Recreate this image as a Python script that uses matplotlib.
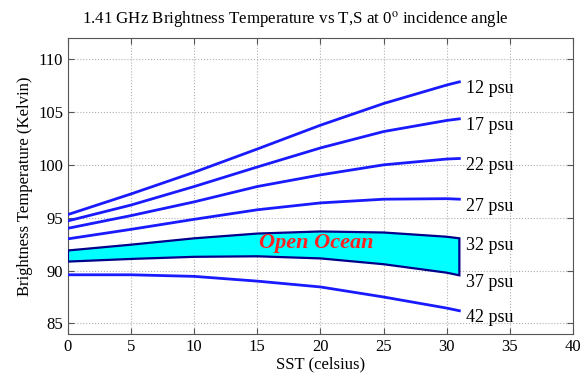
import numpy as np
import matplotlib.pyplot as plt

plt.rcParams['font.family'] = ['Liberation Serif', 'DejaVu Serif']
plt.rcParams['mathtext.fontset'] = 'stix'

# Sea surface temperature (celsius) where the brightness temperature was sampled
sst = [0, 5, 10, 15, 20, 25, 30, 31]

# Brightness temperature (Kelvin) for each salinity
salinity = [12, 17, 22, 27, 32, 37, 42]
tb_12 = [95.3, 97.25, 99.3, 101.5, 103.75, 105.8, 107.55, 107.85]
tb_17 = [94.7, 96.2, 97.95, 99.8, 101.6, 103.15, 104.2, 104.35]
tb_22 = [94.0, 95.2, 96.5, 97.95, 99.05, 100.0, 100.55, 100.6]
tb_27 = [93.0, 93.9, 94.85, 95.75, 96.4, 96.75, 96.8, 96.75]
tb_32 = [91.9, 92.45, 93.05, 93.5, 93.7, 93.6, 93.2, 93.05]
tb_37 = [90.85, 91.1, 91.3, 91.35, 91.15, 90.6, 89.8, 89.55]
tb_42 = [89.6, 89.6, 89.45, 89.0, 88.45, 87.5, 86.45, 86.2]
curves = [tb_12, tb_17, tb_22, tb_27, tb_32, tb_37, tb_42]

fig = plt.figure(figsize=(5.82, 3.76), dpi=100)
ax = fig.add_axes([0.1168, 0.1117, 0.8677, 0.7873])

# open ocean band between 32 and 37 psu
poly_x = sst + sst[::-1]
poly_y = tb_32 + tb_37[::-1]
ax.fill(poly_x, poly_y, facecolor='#00ffff', edgecolor='#00008b', lw=1.6, zorder=3)

for s, tb in zip(salinity, curves):
    if s not in (32, 37):
        ax.plot(sst, tb, color='#1a1aff', lw=2, zorder=4)
    ax.text(sst[-1] + 0.5, tb[-1] - 0.65, f'{s} psu', fontsize=13,
            va='center', ha='left', zorder=5)

ax.text(15.1, 92.6, 'Open Ocean', color='#ff2020', fontsize=16,
        fontweight='bold', fontstyle='italic', va='center', zorder=5)

ax.set_xlim(0, 40)
ax.set_ylim(84, 112)
ax.set_xticks(np.arange(0, 41, 5))
ax.set_yticks(np.arange(85, 111, 5))
ax.grid(True, linestyle=':', color='#b0b0b0', lw=0.8)
ax.set_axisbelow(True)
ax.tick_params(direction='in', top=True, right=True, labelsize=12, length=4,
               color='#555555')
for sp in ax.spines.values():
    sp.set_color('#555555')

ax.set_xlabel('SST (celsius)', fontsize=12, labelpad=1)
ax.set_ylabel('Brightness Temperature (Kelvin)', fontsize=12, labelpad=4)
ax.set_title('1.41 GHz Brightness Temperature vs T,S at 0$^\\mathrm{o}$ incidence angle',
             fontsize=12.2, pad=10, x=0.451)

fig.savefig('out.png', dpi=100)
